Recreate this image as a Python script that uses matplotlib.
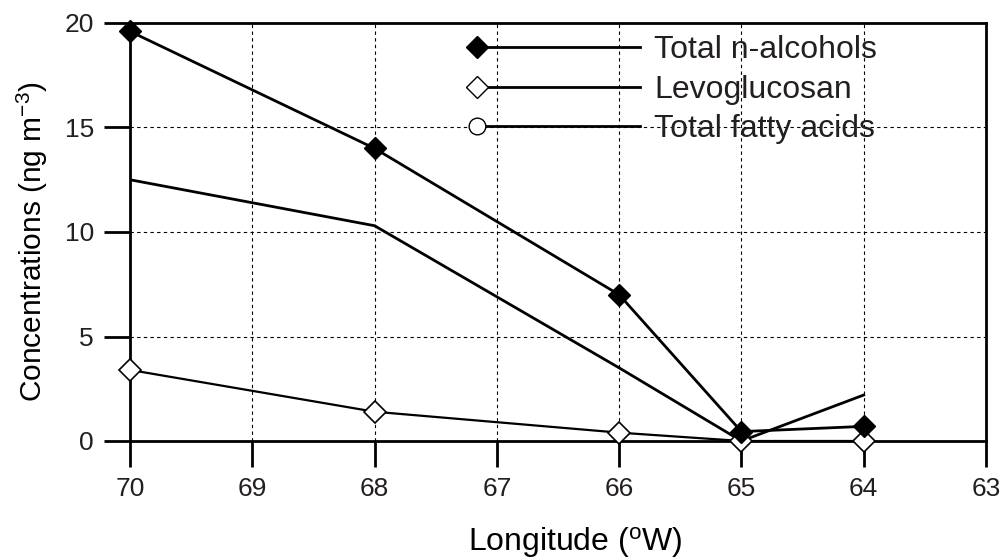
import matplotlib
matplotlib.use("Agg")
import matplotlib.pyplot as plt
from matplotlib.legend_handler import HandlerLine2DCompound
from matplotlib.lines import Line2D

plt.rcParams['font.family'] = ['Liberation Sans', 'DejaVu Sans']
plt.rcParams['mathtext.default'] = 'regular'
plt.rcParams['text.color'] = '#231f20'
plt.rcParams['xtick.labelcolor'] = '#231f20'
plt.rcParams['ytick.labelcolor'] = '#231f20'

# data
longitude = [70, 68, 66, 65, 64]
n_alcohols = [19.6, 14.0, 7.0, 0.45, 0.7]
levoglucosan = [3.4, 1.4, 0.4, 0.0, 0.0]
fatty_acids = [12.5, 10.3, 3.5, 0.0, 2.2]
x_ticks = [70, 69, 68, 67, 66, 65, 64, 63]
y_ticks = [0, 5, 10, 15, 20]
labels = ['Total n-alcohols', 'Levoglucosan', 'Total fatty acids']


class LeftMarkerHandler(HandlerLine2DCompound):
    # legend sample with the marker at the left end of the line
    def get_xdata(self, legend, xdescent, ydescent, width, height, fontsize):
        xdata = [-xdescent, -xdescent + width]
        return xdata, [-xdescent]


fig = plt.figure(figsize=(10.05, 5.6), dpi=100)
ax = fig.add_axes([130 / 1005, 1 - 441 / 560, 856 / 1005, 418 / 560])

ax.plot(longitude, fatty_acids, color='black', lw=2, zorder=3)
ax.plot(longitude, levoglucosan, color='black', lw=1.6, marker='D', ms=11,
        mfc='white', mec='black', mew=1.2, zorder=4, clip_on=False)
ax.plot(longitude, n_alcohols, color='black', lw=2, marker='D', ms=11,
        mfc='black', mec='black', zorder=5, clip_on=False)

ax.set_xlim(70, 63)
ax.set_ylim(0, 20)
ax.set_xticks(x_ticks)
ax.set_yticks(y_ticks)
ax.grid(True, color='black', ls=(0, (3, 3)), lw=0.8)
for s in ax.spines.values():
    s.set_linewidth(2)
ax.tick_params(direction='out', length=19, width=2, labelsize=19, pad=7)

ax.set_xlabel('Longitude ($^{o}$W)', fontsize=23)
ax.set_ylabel('Concentrations (ng m$^{-3}$)', fontsize=21.5)
ax.xaxis.set_label_coords(0.52, -0.202)
ax.yaxis.set_label_coords(-0.094, 0.476)

handles = [
    Line2D([], [], color='black', lw=2, marker='D', ms=11.5, mfc='black', mec='black'),
    Line2D([], [], color='black', lw=2, marker='D', ms=11.5, mfc='white', mec='black'),
    Line2D([], [], color='black', lw=2, marker='o', ms=12, mfc='white', mec='black'),
]
leg = ax.legend(handles, labels, handler_map={Line2D: LeftMarkerHandler()},
                loc='upper left', bbox_to_anchor=(0.405, 0.971), frameon=False,
                fontsize=23, handlelength=5.1, handletextpad=0.45,
                labelspacing=0.3, borderpad=0, borderaxespad=0)
leg.set_zorder(6)

fig.savefig('out.png', dpi=100)
